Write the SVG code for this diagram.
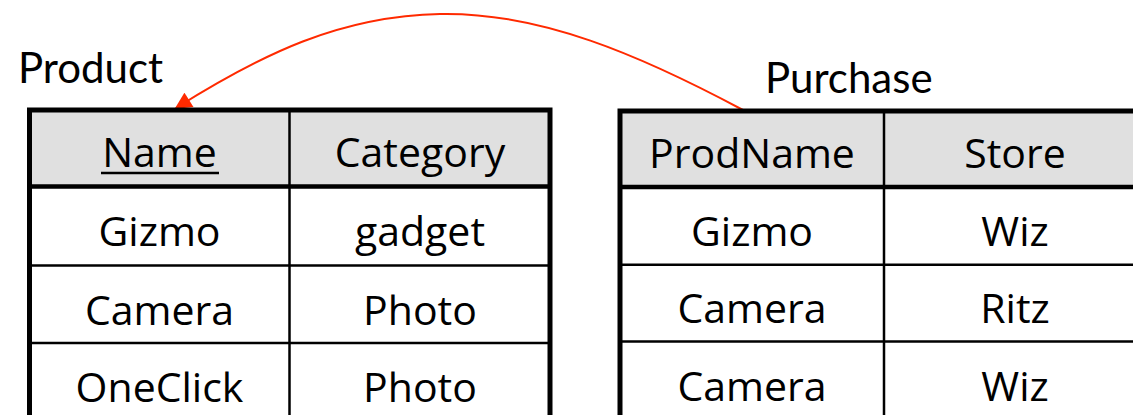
<svg xmlns="http://www.w3.org/2000/svg" width="1133" height="415" viewBox="0 0 1133 415">
  <style>
    .title { font-family: Lato, "Liberation Sans", sans-serif; font-size: 42px; fill: #000; }
    .cell { font-family: "Open Sans", "Liberation Sans", sans-serif; font-size: 41px; fill: #000; text-anchor: middle; }
    .head { fill: #e0e0e0; }
    .body { fill: #ffffff; }
    .outer { fill: none; stroke: #000; stroke-width: 5; }
    .sep { stroke: #000; stroke-width: 4.5; }
    .grid { stroke: #000; stroke-width: 2.5; }
    .fk { fill: none; stroke: #ff2a00; stroke-width: 2; }
  </style>
  <defs>
    <marker id="arrow" viewBox="0 0 10 10" refX="9" refY="5" markerWidth="18" markerHeight="17" markerUnits="userSpaceOnUse" orient="auto">
      <path d="M0,0 L10,5 L0,10 Z" fill="#ff2a00"/>
    </marker>
  </defs>
  <rect width="1133" height="415" fill="#ffffff"/>

  <!-- foreign key: Purchase.ProdName -> Product.Name -->
  <g id="connectors">
    <path class="fk" d="M743,110 C640,55 540,12 440,14 C340,16 262,54 176,108" marker-end="url(#arrow)"/>
  </g>

  <g id="product">
    <text class="title" x="18" y="83">Product</text>
    <rect class="head" x="29.5" y="110" width="520.5" height="76.5"/>
    <rect class="body" x="29.5" y="186.5" width="520.5" height="250"/>
    <line class="sep" x1="29.5" y1="186.5" x2="550" y2="186.5"/>
    <line class="grid" x1="29.5" y1="265.5" x2="550" y2="265.5"/>
    <line class="grid" x1="29.5" y1="343" x2="550" y2="343"/>
    <line class="grid" x1="289.5" y1="110" x2="289.5" y2="440"/>
    <rect class="outer" x="29.5" y="110" width="520.5" height="330"/>
    <text class="cell" x="159.5" y="167">Name</text>
    <line x1="101" y1="173" x2="219" y2="173" stroke="#000" stroke-width="2.5"/>
    <text class="cell" x="420" y="167">Category</text>
    <text class="cell" x="159.5" y="246">Gizmo</text>
    <text class="cell" x="420" y="246">gadget</text>
    <text class="cell" x="159.5" y="324.5">Camera</text>
    <text class="cell" x="420" y="324.5">Photo</text>
    <text class="cell" x="159.5" y="402">OneClick</text>
    <text class="cell" x="420" y="402">Photo</text>
  </g>

  <g id="purchase">
    <text class="title" x="765" y="93">Purchase</text>
    <rect class="head" x="620" y="111" width="526" height="76"/>
    <rect class="body" x="620" y="187" width="526" height="250"/>
    <line class="sep" x1="620" y1="187" x2="1146" y2="187"/>
    <line class="grid" x1="620" y1="264.7" x2="1146" y2="264.7"/>
    <line class="grid" x1="620" y1="341.5" x2="1146" y2="341.5"/>
    <line class="grid" x1="884" y1="111" x2="884" y2="440"/>
    <rect class="outer" x="620" y="111" width="526" height="330"/>
    <text class="cell" x="752" y="167.5">ProdName</text>
    <text class="cell" x="1015" y="167.5">Store</text>
    <text class="cell" x="752" y="245.5">Gizmo</text>
    <text class="cell" x="1015" y="245.5">Wiz</text>
    <text class="cell" x="752" y="323">Camera</text>
    <text class="cell" x="1015" y="323">Ritz</text>
    <text class="cell" x="752" y="401">Camera</text>
    <text class="cell" x="1015" y="401">Wiz</text>
  </g>
</svg>
